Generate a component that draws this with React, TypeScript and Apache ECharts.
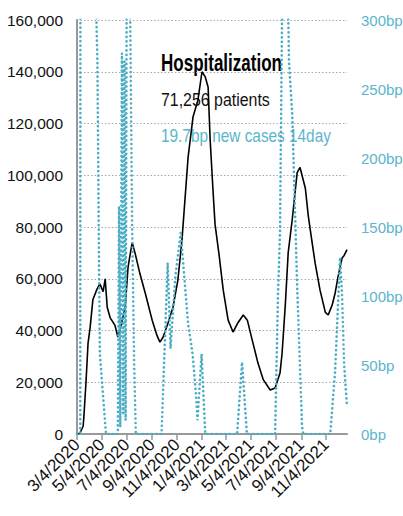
import React, { useEffect, useRef } from "react";
import * as echarts from "echarts";

// Hospitalized patients (black line, left axis)
const hospitalization: [string, number][] = [
  ["2020-03-04", 0], ["2020-03-11", 300], ["2020-03-19", 3000], ["2020-03-21", 7000],
  ["2020-03-26", 20000], ["2020-03-31", 35000], ["2020-04-05", 41000], ["2020-04-12", 52000],
  ["2020-04-22", 56000], ["2020-04-29", 58000], ["2020-05-07", 55000], ["2020-05-12", 60000],
  ["2020-05-17", 49000], ["2020-05-24", 45000], ["2020-06-05", 42000], ["2020-06-12", 37500],
  ["2020-06-17", 40000], ["2020-06-30", 49000], ["2020-07-07", 64500], ["2020-07-17", 74000],
  ["2020-07-24", 70000], ["2020-08-05", 62000], ["2020-08-18", 54500], ["2020-09-04", 44000],
  ["2020-09-16", 38000], ["2020-09-23", 35500], ["2020-10-01", 37500], ["2020-10-13", 43000],
  ["2020-10-25", 49000], ["2020-11-06", 59500], ["2020-11-16", 75000], ["2020-12-01", 107000],
  ["2020-12-13", 122500], ["2020-12-25", 129000], ["2021-01-04", 140000], ["2021-01-12", 138000],
  ["2021-01-19", 134000], ["2021-01-24", 113600], ["2021-01-31", 94000], ["2021-02-05", 81000],
  ["2021-02-15", 69000], ["2021-02-25", 55600], ["2021-03-09", 44000], ["2021-03-21", 39400],
  ["2021-04-02", 43000], ["2021-04-15", 46000], ["2021-04-25", 44000], ["2021-05-07", 36300],
  ["2021-05-21", 27400], ["2021-06-03", 21000], ["2021-06-20", 17000], ["2021-07-02", 17800],
  ["2021-07-14", 23600], ["2021-07-19", 31000], ["2021-07-27", 50000], ["2021-08-03", 70000],
  ["2021-08-13", 83000], ["2021-08-25", 101000], ["2021-09-01", 103000], ["2021-09-14", 95000],
  ["2021-09-21", 84600], ["2021-09-26", 79000], ["2021-10-08", 66000], ["2021-10-20", 55600],
  ["2021-11-02", 47000], ["2021-11-09", 46000], ["2021-11-19", 50000], ["2021-11-26", 54500],
  ["2021-12-03", 60700], ["2021-12-13", 68000], ["2021-12-18", 69000], ["2021-12-25", 71256],
];

// New cases 14day change in bp (teal dotted line, right axis)
const newCasesBp: [string, number][] = [
  ["2020-03-04", 0], ["2020-03-12", 0], ["2020-03-14", 2000], ["2020-04-18", 330],
  ["2020-04-23", 270], ["2020-04-27", 120], ["2020-04-29", 58], ["2020-05-14", 0],
  ["2020-06-12", 0], ["2020-06-15", 165], ["2020-06-18", 5], ["2020-06-22", 276],
  ["2020-06-25", 15], ["2020-06-28", 270], ["2020-07-01", 10], ["2020-07-05", 500],
  ["2020-07-12", 310], ["2020-07-17", 150], ["2020-07-22", 50], ["2020-07-26", 0],
  ["2020-09-27", 0], ["2020-10-12", 124], ["2020-10-19", 62], ["2020-10-31", 115],
  ["2020-11-13", 146], ["2020-11-20", 120], ["2020-12-01", 80], ["2020-12-12", 58],
  ["2020-12-20", 30], ["2020-12-24", 10], ["2021-01-03", 58], ["2021-01-12", 0],
  ["2021-03-31", 0], ["2021-04-12", 52], ["2021-04-24", 0], ["2021-07-02", 0],
  ["2021-07-09", 100], ["2021-07-14", 146], ["2021-07-19", 300], ["2021-07-29", 400],
  ["2021-08-05", 270], ["2021-08-13", 231], ["2021-08-20", 159], ["2021-08-25", 107],
  ["2021-09-06", 5], ["2021-09-09", 0], ["2021-11-14", 0], ["2021-11-26", 46],
  ["2021-12-08", 128], ["2021-12-13", 100], ["2021-12-18", 50], ["2021-12-25", 19.7],
];

const xTickDates = [
  "2020-03-04", "2020-05-04", "2020-07-04", "2020-09-04", "2020-11-04",
  "2021-01-04", "2021-03-04", "2021-05-04", "2021-07-04", "2021-09-04", "2021-11-04",
];
const xRange = ["2020-03-04", "2021-12-25"];
const leftTicks = { min: 0, max: 160000, interval: 20000 };
const rightTicks = { min: 0, max: 300, interval: 50 };

const titleText = "Hospitalization";
const patientsText = "71,256 patients";
const casesText = "19.7bp new cases 14day";

const TEAL = "#4BACC6";
const TEAL_TEXT = "#5BB5CD";
const FONT = "'Liberation Sans', Arial, sans-serif";

const ts = (s: string) => {
  const [y, m, d] = s.split("-").map(Number);
  return Date.UTC(y, m - 1, d);
};

export default function App() {
  const ref = useRef<HTMLDivElement>(null);
  useEffect(() => {
    if (!ref.current) return;
    const chart = echarts.init(ref.current, undefined, { renderer: "svg" });
    const tickTs = xTickDates.map(ts);
    chart.setOption({
      animation: false,
      textStyle: { fontFamily: FONT },
      grid: { left: 77, right: 56, top: 20, bottom: 82, containLabel: false, outerBoundsMode: "none" },
      xAxis: {
        type: "value",
        min: ts(xRange[0]),
        max: ts(xRange[1]),
        axisLine: { show: true, onZero: false, lineStyle: { color: "#999", width: 2 } },
        axisTick: { show: true, inside: false, length: 6, lineStyle: { color: "#999", width: 1.5 }, customValues: tickTs },
        splitLine: { show: false },
        axisLabel: {
          customValues: tickTs,
          rotate: 45,
          margin: 8,
          fontSize: 17,
          color: "#111",
          fontFamily: FONT,
          showMinLabel: true,
          showMaxLabel: true,
          hideOverlap: false,
          formatter: (v: number) => {
            const d = new Date(v);
            return `${d.getUTCMonth() + 1}/${d.getUTCDate()}/${d.getUTCFullYear()}`;
          },
        },
      },
      yAxis: [
        {
          type: "value",
          ...leftTicks,
          axisLine: { show: true, lineStyle: { color: "#999", width: 2 } },
          axisTick: { show: false },
          splitLine: { show: true, lineStyle: { color: "#aaa", type: [1.5, 2], width: 1 } },
          axisLabel: {
            margin: 14,
            fontSize: 15.5,
            color: "#111",
            fontFamily: FONT,
            formatter: (v: number) => v.toLocaleString("en-US"),
          },
        },
        {
          type: "value",
          ...rightTicks,
          position: "right",
          axisLine: { show: false },
          axisTick: { show: false },
          splitLine: { show: false },
          axisLabel: {
            margin: 14,
            fontSize: 15,
            color: TEAL_TEXT,
            fontFamily: FONT,
            formatter: (v: number) => `${v}bp`,
          },
        },
      ],
      graphic: [
        {
          type: "text", x: 161, y: 63.5, scaleX: 0.74, z: 0,
          style: { text: titleText, fill: "#000", font: `bold 23px ${FONT}`, verticalAlign: "middle", align: "left" },
        },
        {
          type: "text", x: 161, y: 100, scaleX: 0.86, z: 0,
          style: { text: patientsText, fill: "#111", font: `18.5px ${FONT}`, verticalAlign: "middle", align: "left" },
        },
        {
          type: "text", x: 161, y: 136.5, scaleX: 0.83, z: 0,
          style: { text: casesText, fill: TEAL_TEXT, font: `18.5px ${FONT}`, verticalAlign: "middle", align: "left" },
        },
      ],
      series: [
        {
          type: "line",
          yAxisIndex: 0,
          data: hospitalization.map(([d, v]) => [ts(d), v]),
          showSymbol: false,
          lineStyle: { color: "#000", width: 1.6 },
          z: 3,
        },
        {
          type: "line",
          yAxisIndex: 1,
          data: newCasesBp.map(([d, v]) => [ts(d), v]),
          showSymbol: false,
          clip: true,
          lineStyle: { color: TEAL, width: 2.6, type: [0.1, 4.4], cap: "round" },
          z: 4,
        },
      ],
    });
    return () => chart.dispose();
  }, []);
  return <div ref={ref} style={{ position: "absolute", left: 0, top: 0, width: 403, height: 516 }} />;
}
